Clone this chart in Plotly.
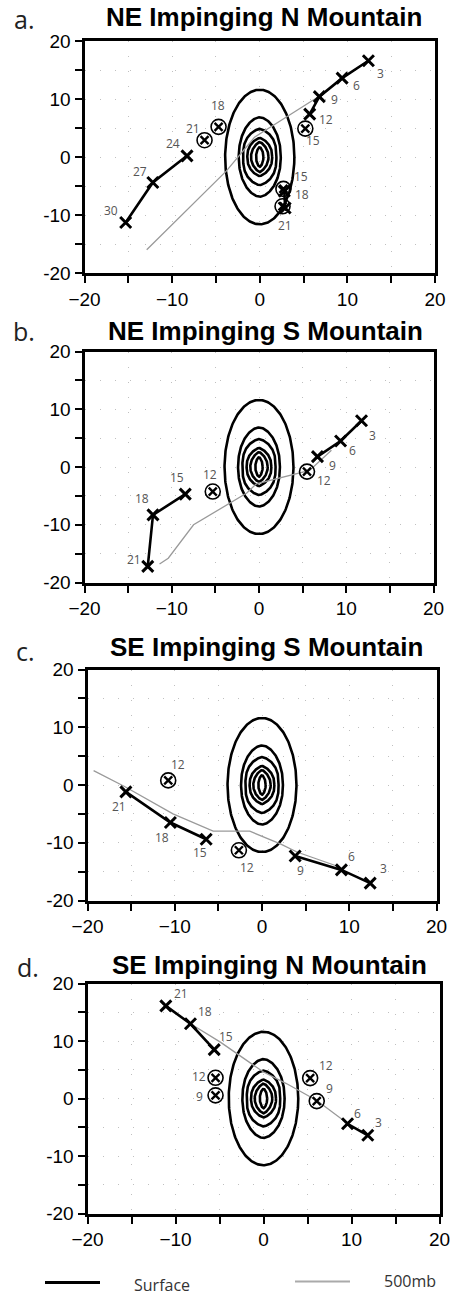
import numpy as np
import plotly.graph_objects as go

W, H = 452, 1295

# ---------------- data ----------------
panel_letters = ["a.", "b.", "c.", "d."]
panel_titles = ["NE Impinging N Mountain", "NE Impinging S Mountain",
                "SE Impinging S Mountain", "SE Impinging N Mountain"]

# terrain contours (semi-axes in x and y)
contour_semi_x = [3.95, 2.4, 1.9, 1.42, 1.0, 0.42]
contour_semi_y = [11.6, 6.85, 4.85, 3.3, 2.6, 1.7]

# ---- panel a: NE impinging N mountain ----
a_trk1_hr = [3, 6, 9, 12]
a_trk1_x = [12.4, 9.4, 6.8, 5.7]
a_trk1_y = [16.6, 13.6, 10.4, 7.4]
a_trk2_hr = [18, 21]
a_trk2_x = [2.8, 2.9]
a_trk2_y = [-5.9, -8.8]
a_trk3_hr = [24, 27, 30]
a_trk3_x = [-8.3, -12.2, -15.3]
a_trk3_y = [0.2, -4.4, -11.3]
a_split_hr = [15, 18, 21, 15, 21]
a_split_x = [5.2, -4.7, -6.3, 2.7, 2.6]
a_split_y = [4.9, 5.2, 2.9, -5.5, -8.5]
a_500_x = [-12.9, -3.8, -0.6, 6.6]
a_500_y = [-16.0, -2.4, 3.4, 10.3]

# ---- panel b: NE impinging S mountain ----
b_trk1_hr = [3, 6, 9]
b_trk1_x = [11.75, 9.35, 6.7]
b_trk1_y = [8.0, 4.5, 1.8]
b_trk2_hr = [15, 18, 21]
b_trk2_x = [-8.45, -12.15, -12.75]
b_trk2_y = [-4.7, -8.3, -17.2]
b_split_hr = [12, 12]
b_split_x = [5.5, -5.3]
b_split_y = [-0.8, -4.25]
b_500_x = [-11.4, -10.4, -7.5, -1.4, -0.3, 2.8, 5.8, 8.3]
b_500_y = [-16.8, -15.8, -10.0, -4.5, -2.9, -1.7, -0.6, 2.9]

# ---- panel c: SE impinging S mountain ----
c_trk1_hr = [3, 6, 9]
c_trk1_x = [12.4, 9.1, 3.8]
c_trk1_y = [-17.0, -14.7, -12.3]
c_trk2_hr = [15, 18, 21]
c_trk2_x = [-6.4, -10.5, -15.6]
c_trk2_y = [-9.4, -6.5, -1.2]
c_split_hr = [12, 12]
c_split_x = [-2.65, -10.75]
c_split_y = [-11.3, 0.8]
c_500_x = [-19.3, -15.7, -10.2, -5.6, -1.4, 2.1, 4.0, 8.9]
c_500_y = [2.5, -0.3, -5.0, -8.0, -8.0, -10.2, -11.6, -14.2]

# ---- panel d: SE impinging N mountain ----
d_trk1_hr = [3, 6]
d_trk1_x = [11.85, 9.55]
d_trk1_y = [-6.4, -4.4]
d_trk2_hr = [15, 18, 21]
d_trk2_x = [-5.6, -8.3, -11.1]
d_trk2_y = [8.5, 13.0, 16.1]
d_split_hr = [12, 9, 12, 9]
d_split_x = [5.3, 6.05, -5.45, -5.45]
d_split_y = [3.55, -0.45, 3.6, 0.55]
d_500_x = [-8.3, -4.9, 0.0, 2.6, 6.1, 9.6]
d_500_y = [13.0, 9.8, 4.6, 2.6, -0.4, -4.4]

tick_vals = [-20, -15, -10, -5, 0, 5, 10, 15, 20]
x_tick_text = ["\u221220", "", "\u221210", "", "0", "", "10", "", "20"]
y_tick_text = ["-20", "", "-10", "", "0", "", "10", "", "20"]

legend_names = ["Surface", "500mb"]

# ---------------- styles ----------------
# label offsets in pixels (right, down); None = no label
label_offsets = {
    "a": {"trk": [[(12, 13), (14, 7), (15, 3), (16, 5)],
                  [(18, 3), (0, 17)],
                  [(-14, -12), (-13, -11), (-15, -12)]],
          "split": [(8, 12), (-1, -21), (-12, -12), (18, -12), None]},
    "b": {"trk": [[(11, 15), (12, 9), (15, 9)],
                  [(-8, -17), (-11, -16), (-14, -7)]],
          "split": [(17, 9), (-3, -17)]},
    "c": {"trk": [[(13, -15), (10, -13), (5, 14)],
                  [(-6, 13), (-8, 15), (-7, 15)]],
          "split": [(8, 17), (10, -16)]},
    "d": {"trk": [[(11, -13), (10, -10)],
                  [(12, -13), (15, -12), (15, -12)]],
          "split": [(16, -13), (13, -13), (-17, -1), (-16, 1)]},
}
contour_exp_x = [2.0, 1.8, 1.45, 1.35, 1.3, 1.5]
contour_exp_y = [2.0, 2.1, 2.8, 2.4, 2.0, 2.0]

# pixel boxes of the four plot areas: (left, right, top, bottom)
boxes = [(84.5, 435.0, 41.0, 273.0),
         (84.5, 433.5, 351.5, 582.5),
         (87.5, 436.5, 669.5, 900.5),
         (87.5, 439.5, 983.5, 1213.5)]
title_pos = [(264, 17.5), (265, 331.5), (266, 647), (269, 965)]
letter_pos = [(24, 19), (24, 331), (25, 651), (28, 967)]

panels = [
    dict(key="a", trks=[(a_trk1_hr, a_trk1_x, a_trk1_y), (a_trk2_hr, a_trk2_x, a_trk2_y),
                        (a_trk3_hr, a_trk3_x, a_trk3_y)],
         split=(a_split_hr, a_split_x, a_split_y), upper=(a_500_x, a_500_y)),
    dict(key="b", trks=[(b_trk1_hr, b_trk1_x, b_trk1_y), (b_trk2_hr, b_trk2_x, b_trk2_y)],
         split=(b_split_hr, b_split_x, b_split_y), upper=(b_500_x, b_500_y)),
    dict(key="c", trks=[(c_trk1_hr, c_trk1_x, c_trk1_y), (c_trk2_hr, c_trk2_x, c_trk2_y)],
         split=(c_split_hr, c_split_x, c_split_y), upper=(c_500_x, c_500_y)),
    dict(key="d", trks=[(d_trk1_hr, d_trk1_x, d_trk1_y), (d_trk2_hr, d_trk2_x, d_trk2_y)],
         split=(d_split_hr, d_split_x, d_split_y), upper=(d_500_x, d_500_y)),
]

LBL_FONT = dict(family="Open Sans", size=12, color="#555555")

fig = go.Figure()
annotations = []
layout_axes = {}

t = np.linspace(0, 2 * np.pi, 241)
for i, p in enumerate(panels):
    n = i + 1
    xa = "x" if n == 1 else f"x{n}"
    ya = "y" if n == 1 else f"y{n}"
    # contours
    for a, b, qx, ry in zip(contour_semi_x, contour_semi_y, contour_exp_x, contour_exp_y):
        c, s = np.cos(t), np.sin(t)
        cx = a * np.sign(c) * np.abs(c) ** (2.0 / qx)
        cy = b * np.sign(s) * np.abs(s) ** (2.0 / ry)
        fig.add_trace(go.Scatter(x=cx, y=cy, mode="lines", xaxis=xa, yaxis=ya,
                                 line=dict(color="black", width=2.6), hoverinfo="skip",
                                 showlegend=False))
    # 500 mb track
    ux, uy = p["upper"]
    fig.add_trace(go.Scatter(x=ux, y=uy, mode="lines", xaxis=xa, yaxis=ya,
                             line=dict(color="#9a9a9a", width=1.3), showlegend=False))
    offs = label_offsets[p["key"]]
    # surface tracks
    for k, (hr, xs, ys) in enumerate(p["trks"]):
        fig.add_trace(go.Scatter(x=xs, y=ys, mode="lines+markers", xaxis=xa, yaxis=ya,
                                 line=dict(color="black", width=2.6),
                                 marker=dict(symbol="x-thin-open", size=11, color="black",
                                             line=dict(color="black", width=3)),
                                 showlegend=False))
        for j, h in enumerate(hr):
            o = offs["trk"][k][j]
            if o is None:
                continue
            annotations.append(dict(x=xs[j], y=ys[j], xref=xa, yref=ya, text=str(h),
                                    showarrow=False, xshift=o[0], yshift=-o[1], font=LBL_FONT))
    # split (circled) centres
    hr, xs, ys = p["split"]
    fig.add_trace(go.Scatter(x=xs, y=ys, mode="markers", xaxis=xa, yaxis=ya,
                             marker=dict(symbol="circle-open", size=15, color="black",
                                         line=dict(color="black", width=1.6)),
                             showlegend=False))
    fig.add_trace(go.Scatter(x=xs, y=ys, mode="markers", xaxis=xa, yaxis=ya,
                             marker=dict(symbol="x-thin-open", size=8, color="black",
                                         line=dict(color="black", width=2.4)),
                             showlegend=False))
    for j, h in enumerate(hr):
        o = offs["split"][j]
        if o is None:
            continue
        annotations.append(dict(x=xs[j], y=ys[j], xref=xa, yref=ya, text=str(h),
                                showarrow=False, xshift=o[0], yshift=-o[1], font=LBL_FONT))

    l, r, tp, bt = boxes[i]
    common = dict(range=[-20, 20], tickmode="array", tickvals=tick_vals, automargin=False,
                  ticks="outside", ticklen=7, tickwidth=2, tickcolor="black",
                  showline=True, linewidth=3, linecolor="black", mirror=True,
                  showgrid=True, gridcolor="#c0c0c0", gridwidth=1, griddash="1px,14px",
                  zeroline=False, tickfont=dict(family="Liberation Sans", size=19, color="black"))
    layout_axes["xaxis" if n == 1 else f"xaxis{n}"] = dict(
        domain=[l / W, r / W], anchor=ya, ticktext=x_tick_text, **common)
    layout_axes["yaxis" if n == 1 else f"yaxis{n}"] = dict(
        domain=[1 - bt / H, 1 - tp / H], anchor=xa, ticktext=y_tick_text, **common)

    tx, ty = title_pos[i]
    annotations.append(dict(x=tx / W, y=1 - ty / H, xref="paper", yref="paper",
                            text="<b>" + panel_titles[i] + "</b>", showarrow=False,
                            xanchor="center", yanchor="middle",
                            font=dict(family="Liberation Sans", size=26, color="black")))
    lx, ly = letter_pos[i]
    annotations.append(dict(x=lx / W, y=1 - ly / H, xref="paper", yref="paper",
                            text=panel_letters[i], showarrow=False,
                            xanchor="center", yanchor="middle",
                            font=dict(family="Open Sans", size=25, color="#222222")))

# legend
shapes = [
    dict(type="line", xref="paper", yref="paper", x0=45 / W, x1=100 / W,
         y0=1 - 1282.5 / H, y1=1 - 1282.5 / H, line=dict(color="black", width=3)),
    dict(type="line", xref="paper", yref="paper", x0=295 / W, x1=350 / W,
         y0=1 - 1281.5 / H, y1=1 - 1281.5 / H, line=dict(color="#aaaaaa", width=2)),
]
annotations.append(dict(x=162 / W, y=1 - 1285 / H, xref="paper", yref="paper",
                        text=legend_names[0], showarrow=False, xanchor="center", yanchor="middle",
                        font=dict(family="Open Sans", size=16, color="#333333")))
annotations.append(dict(x=410 / W, y=1 - 1281 / H, xref="paper", yref="paper",
                        text=legend_names[1], showarrow=False, xanchor="center", yanchor="middle",
                        font=dict(family="Open Sans", size=16, color="#333333")))

fig.update_layout(width=W, height=H, margin=dict(l=0, r=0, t=0, b=0),
                  paper_bgcolor="white", plot_bgcolor="white", hovermode=False,
                  annotations=annotations, shapes=shapes, showlegend=False, **layout_axes)

fig.write_html("out.html", config={"displayModeBar": False, "staticPlot": True},
               post_script="document.body.style.margin='0';document.body.style.overflow='hidden';")
